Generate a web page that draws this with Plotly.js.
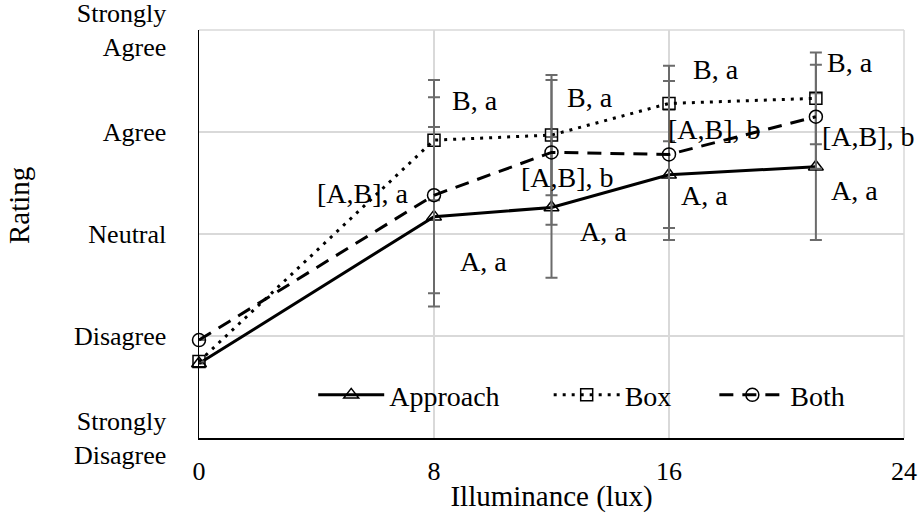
<!DOCTYPE html>
<html>
<head>
<meta charset="utf-8">
<script src="https://cdn.plot.ly/plotly-3.0.1.min.js"></script>
<style>html,body{margin:0;padding:0;background:#fff;}#chart{width:920px;height:524px;}</style>
</head>
<body>
<div id="chart"></div>
<script>
// ---- data ----
const illuminance = [0, 8, 12, 16, 21];
const seriesNames = ["Approach", "Box", "Both"];
const approachVals = [1.73, 3.17, 3.26, 3.58, 3.66];
const approachErr  = [0, 0.88, 0.69, 0.64, 0.72];
const boxVals      = [1.75, 3.92, 3.97, 4.28, 4.33];
const boxErr       = [0, 0.59, 0.59, 0.37, 0.45];
const bothVals     = [1.96, 3.38, 3.80, 3.78, 4.15];
const bothErr      = [0, 0.96, 0.71, 0.72, 0.51];
const approachLabels = ["", "A, a", "A, a", "A, a", "A, a"];
const boxLabels      = ["", "B, a", "B, a", "B, a", "B, a"];
const bothLabels     = ["", "[A,B], a", "[A,B], b", "[A,B], b", "[A,B], b"];
const yTickVals  = [1, 2, 3, 4, 5];
const yTickText  = ["Strongly<br>Disagree", "Disagree", "Neutral", "Agree", "Strongly<br>Agree"];
const xTickVals  = [0, 8, 16, 24];

// ---- styling ----
const FONT = "Liberation Serif, Times New Roman, serif";
const errStyle = {type: "data", visible: true, color: "#6b6b6b", thickness: 2, width: 6};

function trace(name, y, err, dash, symbol, size, legendId) {
  return {
    type: "scatter", mode: "lines+markers", name: name, legend: legendId,
    x: illuminance, y: y,
    line: {color: "#000", width: 3, dash: dash},
    marker: {symbol: symbol, size: size, color: "#000", line: {color: "#000", width: 1.5}},
    error_y: Object.assign({array: err}, errStyle),
    cliponaxis: false
  };
}

const data = [
  trace(seriesNames[0], approachVals, approachErr, "solid", "triangle-up-open", 13, "legend"),
  trace(seriesNames[1], boxVals, boxErr, "3px,6px", "square-open", 12, "legend2"),
  trace(seriesNames[2], bothVals, bothErr, "14px,9px", "circle-open", 13, "legend3")
];

// label offsets in pixels (x right, y up) relative to each point
const approachOff = [[0,0],[49,-45],[52,-24],[35,-21],[39,-24]];
const boxOff      = [[0,0],[41,40],[38,38],[47,34],[34,36]];
const bothOff     = [[0,0],[-71,2],[16,-25],[45,25],[53,-20]];

const annotations = [];
function addLabels(labels, vals, offs) {
  labels.forEach((t, i) => {
    if (!t) return;
    annotations.push({
      x: illuminance[i], y: vals[i], xref: "x", yref: "y", text: t,
      showarrow: false, xshift: offs[i][0], yshift: offs[i][1],
      font: {family: FONT, size: 28, color: "#000"}
    });
  });
}
addLabels(approachLabels, approachVals, approachOff);
addLabels(boxLabels, boxVals, boxOff);
addLabels(bothLabels, bothVals, bothOff);

annotations.push({
  text: "Rating", textangle: -90, xref: "paper", yref: "paper",
  x: -0.255, y: 0.569, xanchor: "center", yanchor: "middle", showarrow: false,
  font: {family: FONT, size: 29, color: "#000"}
});

function legendAt(xp) {
  return {
    orientation: "h", x: xp, y: 0.105, xanchor: "left", yanchor: "middle",
    bgcolor: "rgba(0,0,0,0)", font: {family: FONT, size: 28, color: "#000"},
    itemwidth: 66
  };
}

const layout = {
  width: 920, height: 524,
  margin: {l: 199, r: 16, t: 30, b: 86},
  paper_bgcolor: "#fff", plot_bgcolor: "#fff",
  font: {family: FONT, color: "#000", size: 26},
  showlegend: true,
  legend: legendAt(0.162),
  legend2: legendAt(0.496),
  legend3: legendAt(0.731),
  xaxis: {
    range: [0, 24], tickvals: xTickVals, ticks: "",
    showgrid: true, gridcolor: "#d9d9d9", gridwidth: 1.5,
    zeroline: false, showline: true, linecolor: "#000", linewidth: 1.5,
    tickfont: {family: FONT, size: 26, color: "#000"},
    ticklabelstandoff: 9,
    title: {text: "Illuminance (lux)", font: {family: FONT, size: 29, color: "#000"}, standoff: 1}
  },
  yaxis: {
    range: [1, 5], tickvals: yTickVals, ticktext: yTickText, ticks: "",
    showgrid: true, gridcolor: "#d9d9d9", gridwidth: 1.5,
    zeroline: false, showline: true, linecolor: "#000", linewidth: 1.5,
    tickfont: {family: FONT, size: 26, color: "#000"},
    ticklabelstandoff: 26, ticklabeloverflow: "allow"
  },
  shapes: [
    {type: "line", xref: "paper", yref: "paper", x0: 0, x1: 1, y0: 1, y1: 1, line: {color: "#d9d9d9", width: 1.5}, layer: "below"},
    {type: "line", xref: "paper", yref: "paper", x0: 1, x1: 1, y0: 0, y1: 1, line: {color: "#d9d9d9", width: 1.5}, layer: "below"}
  ],
  annotations: annotations
};

Plotly.newPlot("chart", data, layout, {displayModeBar: false, staticPlot: true});
</script>
</body>
</html>
